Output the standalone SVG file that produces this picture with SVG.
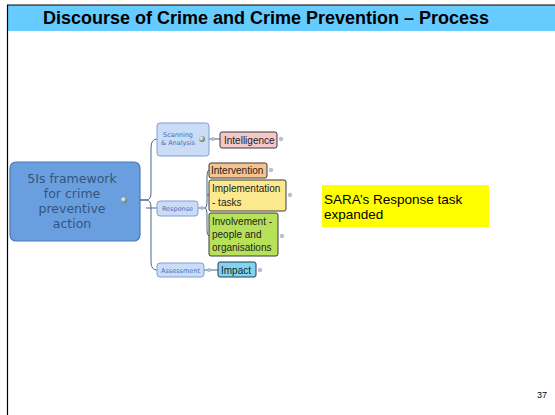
<svg xmlns="http://www.w3.org/2000/svg" width="555" height="415" viewBox="0 0 555 415">
<style>
.title{font-family:"Liberation Sans",Arial,sans-serif;font-weight:bold;font-size:18px;fill:#000}
.sub{fill:#cadcf6;stroke:#7f9fd6;stroke-width:1}
.subt{font-family:"DejaVu Sans",Verdana,sans-serif;font-size:6.5px;fill:#4a6fb4;text-anchor:middle}
.leaf{stroke:#3a3a3a;stroke-width:1}
.leaft{font-family:"Liberation Sans",Arial,sans-serif;font-size:10px;fill:#222}
.conn{fill:none;stroke:#4c6688;stroke-width:1}
.dot{fill:#b8c4d4;stroke:#8a9ab0;stroke-width:0.5}
.body{font-family:"Liberation Sans",Arial,sans-serif;font-size:13.5px;fill:#000}
</style>
<defs>
<radialGradient id="sph" cx="0.35" cy="0.35" r="0.7">
<stop offset="0" stop-color="#ffffff"/>
<stop offset="0.5" stop-color="#a9b8b0"/>
<stop offset="1" stop-color="#5e6f68"/>
</radialGradient>
</defs>
<rect x="0" y="0" width="555" height="415" fill="#fff"/>
<rect x="7" y="5" width="548" height="26" fill="#66ccff"/>
<line x1="7" y1="5" x2="555" y2="5" stroke="#000" stroke-width="1.2"/>
<line x1="7.5" y1="5" x2="7.5" y2="415" stroke="#000" stroke-width="1.2"/>
<text class="title" x="266" y="24" text-anchor="middle">Discourse of Crime and Crime Prevention – Process</text>

<g id="connectors">
<path class="conn" d="M140 200 H146 Q151 200 151 193 V148 Q151 139 157 139"/>
<path class="conn" d="M140 200 H146 Q151 200 151 207 V262 Q151 270 157 270"/>
<path class="conn" d="M146 208 H157"/>
<path class="conn" d="M209 139 H220"/>
<path class="conn" d="M198 208 H205 Q207 208 207 200 V176 Q207 170 209 170"/>
<path class="conn" d="M205 208 Q207 208 207 216 V230 Q207 236 209 236"/>
<path class="conn" d="M207 195 H209"/>
<path class="conn" d="M204 270 H218"/>
<circle cx="213" cy="139" r="1.6" class="dot"/>
<circle cx="202" cy="208" r="1.6" class="dot"/>
<circle cx="209" cy="270" r="1.6" class="dot"/>
</g>

<g id="main">
<rect x="10" y="162" width="130" height="79" rx="6" fill="#6a9fdf" stroke="#4a79b5" stroke-width="1.2"/>
<g font-family="'DejaVu Sans',Verdana,sans-serif" font-size="12.5px" fill="#34557f" text-anchor="middle">
<text x="72" y="183">5Is framework</text>
<text x="72" y="198">for crime</text>
<text x="72" y="213">preventive</text>
<text x="72" y="228">action</text>
</g>
<circle cx="124" cy="200" r="3" fill="url(#sph)"/>
</g>

<g id="scanning">
<rect class="sub" x="157" y="123" width="52" height="33" rx="3"/>
<text class="subt" x="178" y="137">Scanning</text>
<text class="subt" x="178" y="145">&amp; Analysis</text>
<circle cx="202" cy="139" r="3" fill="url(#sph)"/>
</g>

<g id="response">
<rect class="sub" x="157" y="201" width="41" height="15" rx="3"/>
<text class="subt" x="177.5" y="211">Response</text>
</g>

<g id="assessment">
<rect class="sub" x="157" y="263" width="47" height="14" rx="3"/>
<text class="subt" x="180.5" y="272.5">Assessment</text>
</g>

<g id="intelligence">
<rect class="leaf" x="220" y="132" width="57" height="16" rx="2" fill="#f5c7c7"/>
<text class="leaft" x="224" y="144">Intelligence</text>
<circle cx="281" cy="139" r="1.8" class="dot"/>
</g>

<g id="intervention">
<rect class="leaf" x="209" y="163" width="58" height="15" rx="2" fill="#f7c38e"/>
<text class="leaft" x="211" y="174">Intervention</text>
<circle cx="271" cy="170" r="1.8" class="dot"/>
</g>

<g id="implementation">
<rect class="leaf" x="209" y="180" width="77" height="31" rx="2" fill="#fde98d"/>
<text class="leaft" x="212" y="192">Implementation</text>
<text class="leaft" x="212" y="206">- tasks</text>
<circle cx="290" cy="195" r="1.8" class="dot"/>
</g>

<g id="involvement">
<rect class="leaf" x="209" y="213" width="69" height="43" rx="2" fill="#b6e158"/>
<text class="leaft" x="212" y="225">Involvement -</text>
<text class="leaft" x="212" y="238">people and</text>
<text class="leaft" x="212" y="251">organisations</text>
<circle cx="282" cy="236" r="1.8" class="dot"/>
</g>

<g id="impact">
<rect x="218" y="262" width="38" height="15" rx="2" fill="#80d4f2" stroke="#2a3a4a" stroke-width="1"/>
<text class="leaft" x="221" y="273.5">Impact</text>
<circle cx="260" cy="270" r="1.8" class="dot"/>
</g>

<g id="sara">
<rect x="322" y="185" width="167" height="42" fill="#ffff00"/>
<text class="body" x="324" y="204">SARA’s Response task</text>
<text class="body" x="324" y="219">expanded</text>
</g>

<text x="547" y="398" text-anchor="end" font-family="'Liberation Sans',Arial,sans-serif" font-size="9px" fill="#000">37</text>
</svg>
